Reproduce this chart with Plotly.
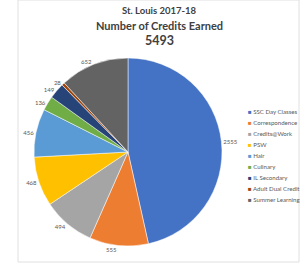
import plotly.graph_objects as go

labels = ["SSC Day Classes", "Correspondence", "Credits@Work", "PSW", "Hair",
          "Culinary", "IL Secondary", "Adult Dual Credit", "Summer Learning"]
values = [2555, 555, 494, 468, 456, 136, 149, 28, 652]
colors = ["#4472C4", "#ED7D31", "#A5A5A5", "#FFC000", "#5B9BD5",
          "#70AD47", "#264478", "#9E480E", "#636363"]
title_lines = ["St. Louis 2017-18", "Number of Credits Earned"]

font = "Lato"
fig = go.Figure()
fig.add_trace(go.Pie(
    labels=labels, values=values, sort=False, direction="clockwise", rotation=0,
    marker=dict(colors=colors, line=dict(color="white", width=0.5)),
    textinfo="value", textposition="outside",
    textfont=dict(size=6, color="#595959", family=font),
    domain=dict(x=[0.0933, 0.76], y=[0.0752, 0.782]),
    showlegend=False, hoverinfo="label+value",
))

annos = [
    dict(text="<b>%s</b>" % title_lines[0], y=11, size=9.5),
    dict(text="<b>%s</b>" % title_lines[1], y=25, size=11),
    dict(text="<b>%d</b>" % sum(values), y=40, size=12.5),
]
for a in annos:
    fig.add_annotation(text=a["text"], x=159/300, y=1 - a["y"]/266, xref="paper", yref="paper",
                       xanchor="center", yanchor="middle", showarrow=False,
                       font=dict(size=a["size"], color="#404040", family=font))

# compact legend
for i, (lab, col) in enumerate(zip(labels, colors)):
    fig.add_annotation(
        text='<span style="color:%s">■</span> %s' % (col, lab),
        x=246/300, y=1 - (111 + i*11.1)/266, xref="paper", yref="paper",
        xanchor="left", yanchor="middle", showarrow=False,
        font=dict(size=6.1, color="#595959", family=font))

fig.add_shape(type="rect", xref="paper", yref="paper", x0=18/300, x1=299/300,
              y0=1 - 262/266, y1=1, line=dict(color="#E0E0E0", width=1))

fig.update_layout(width=300, height=266, margin=dict(l=0, r=0, t=0, b=0),
                  paper_bgcolor="white", plot_bgcolor="white")
fig.write_html("out.html")
